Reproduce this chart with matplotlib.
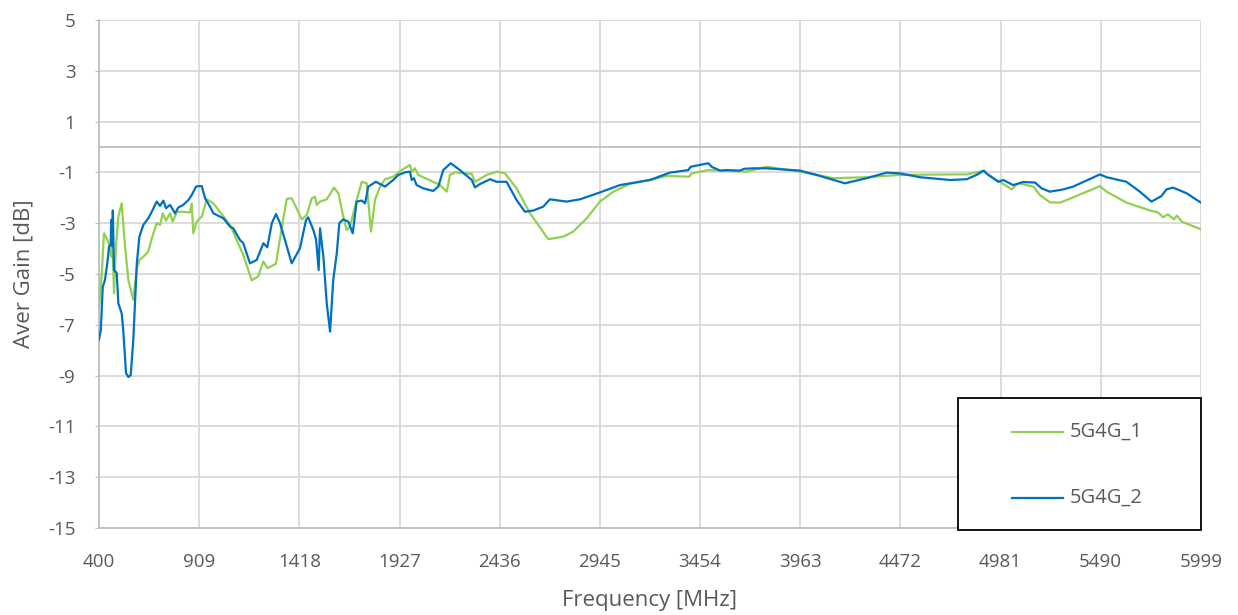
import numpy as np
import matplotlib.pyplot as plt
from matplotlib.lines import Line2D
from matplotlib.patches import Rectangle

# 5G4G_1 (green)
f1 = [400, 414, 425, 439, 452, 461, 469, 476, 486, 498, 515, 532, 549, 574, 592, 605, 625, 650,
      668, 693, 710, 724, 740, 761, 774, 795, 828, 862, 871, 879, 896, 922, 947, 981, 1066, 1133,
      1176, 1209, 1235, 1256, 1299, 1328, 1354, 1379, 1430, 1455, 1481, 1497, 1506, 1523, 1557,
      1594, 1616, 1641, 1658, 1675, 1709, 1735, 1760, 1782, 1802, 1828, 1853, 1895, 1929, 1980,
      1991, 2005, 2022, 2133, 2167, 2183, 2209, 2294, 2310, 2370, 2421, 2463, 2522, 2590, 2632,
      2683, 2759, 2810, 2878, 2945, 3013, 3098, 3199, 3284, 3399, 3411, 3496, 3556, 3691, 3792,
      3962, 4131, 4300, 4470, 4724, 4809, 4893, 4927, 4978, 5037, 5071, 5148, 5181, 5232, 5283,
      5317, 5486, 5520, 5621, 5740, 5782, 5807, 5831, 5862, 5877, 5902, 5999]
g1 = [-6.29, -4.97, -3.4, -3.6, -3.86, -4.32, -3.9, -5.76, -3.92, -2.74, -2.22, -3.92, -5.24,
      -6.02, -4.78, -4.45, -4.32, -4.12, -3.6, -3.0, -3.07, -2.61, -2.9, -2.61, -2.94, -2.55,
      -2.55, -2.58, -2.22, -3.4, -2.94, -2.74, -2.06, -2.22, -3.07, -4.25, -5.25, -5.09, -4.51,
      -4.77, -4.6, -3.2, -2.04, -2.02, -2.85, -2.68, -2.02, -1.96, -2.28, -2.15, -2.06, -1.6,
      -1.82, -2.74, -3.27, -3.14, -2.09, -1.37, -1.43, -3.33, -2.09, -1.56, -1.27, -1.17, -0.95,
      -0.71, -0.97, -0.84, -1.1, -1.5, -1.76, -1.1, -1.0, -1.06, -1.37, -1.1, -0.97, -1.04,
      -1.63, -2.61, -3.07, -3.63, -3.53, -3.33, -2.81, -2.15, -1.76, -1.45, -1.3, -1.14, -1.17,
      -1.04, -0.91, -0.93, -0.97, -0.78, -0.97, -1.23, -1.19, -1.1, -1.08, -1.08, -0.94, -1.15,
      -1.37, -1.67, -1.43, -1.56, -1.89, -2.18, -2.19, -2.09, -1.54, -1.76, -2.19, -2.5, -2.58,
      -2.77, -2.65, -2.85, -2.7, -2.94, -3.24]

# 5G4G_2 (blue)
f2 = [400, 409, 419, 430, 442, 451, 459, 462, 466, 470, 476, 490, 498, 515, 523, 537, 549, 561,
      574, 592, 605, 625, 650, 668, 693, 710, 727, 740, 761, 786, 803, 828, 854, 871, 893, 905,
      922, 939, 964, 981, 1032, 1066, 1082, 1116, 1133, 1167, 1201, 1235, 1255, 1278, 1299, 1320,
      1379, 1421, 1452, 1463, 1489, 1503, 1516, 1523, 1540, 1557, 1574, 1590, 1608, 1621, 1641,
      1667, 1689, 1709, 1735, 1752, 1768, 1807, 1853, 1895, 1921, 1955, 1980, 1989, 2000, 2014,
      2048, 2098, 2124, 2149, 2187, 2234, 2294, 2310, 2336, 2387, 2421, 2471, 2522, 2564, 2607,
      2657, 2691, 2776, 2844, 2945, 3047, 3199, 3301, 3394, 3406, 3496, 3513, 3556, 3589, 3657,
      3677, 3724, 3792, 3962, 4046, 4190, 4300, 4402, 4470, 4571, 4724, 4809, 4859, 4896, 4913,
      4969, 4995, 5045, 5096, 5156, 5190, 5232, 5300, 5350, 5486, 5520, 5621, 5689, 5748, 5799,
      5824, 5858, 5926, 5999]
g2 = [-7.57, -7.2, -5.5, -5.24, -4.58, -3.92, -3.86, -2.87, -3.9, -2.5, -4.84, -4.97, -6.15,
      -6.55, -7.2, -8.9, -9.06, -8.98, -7.6, -4.58, -3.53, -3.07, -2.81, -2.55, -2.15, -2.32,
      -2.11, -2.41, -2.28, -2.61, -2.38, -2.28, -2.09, -1.89, -1.56, -1.54, -1.54, -2.02, -2.35,
      -2.61, -2.81, -3.14, -3.2, -3.66, -3.79, -4.58, -4.45, -3.79, -3.95, -3.0, -2.64, -3.0,
      -4.58, -3.99, -2.87, -2.77, -3.27, -3.66, -4.84, -3.2, -4.32, -6.15, -7.27, -5.24, -4.19,
      -3.0, -2.85, -2.94, -3.4, -2.15, -2.11, -2.22, -1.56, -1.37, -1.56, -1.3, -1.1, -1.0,
      -0.97, -1.3, -1.23, -1.5, -1.63, -1.73, -1.56, -0.91, -0.64, -0.91, -1.3, -1.59, -1.46,
      -1.27, -1.37, -1.37, -2.09, -2.55, -2.5, -2.35, -2.06, -2.15, -2.06, -1.79, -1.5, -1.3,
      -1.01, -0.91, -0.78, -0.64, -0.78, -0.93, -0.91, -0.93, -0.86, -0.84, -0.84, -0.93, -1.1,
      -1.43, -1.23, -1.01, -1.04, -1.19, -1.3, -1.27, -1.1, -0.93, -1.06, -1.37, -1.3, -1.5,
      -1.38, -1.4, -1.63, -1.76, -1.67, -1.56, -1.08, -1.19, -1.37, -1.76, -2.15, -1.93, -1.67,
      -1.6, -1.82, -2.19]

labels = ['5G4G_1', '5G4G_2']
xticks = [400, 909, 1418, 1927, 2436, 2945, 3454, 3963, 4472, 4981, 5490, 5999]
yticks = [5, 3, 1, -1, -3, -5, -7, -9, -11, -13, -15]

green = '#92d050'
blue = '#0070c0'
txt = '#595959'
grid = '#d9d9d9'

plt.rcParams['font.family'] = ['Open Sans', 'DejaVu Sans']

fig = plt.figure(figsize=(12.38, 6.15), dpi=100)
ax = fig.add_axes([0.080, 0.1415, 0.890, 0.826])

ax.plot(f1, g1, color=green, lw=1.6, zorder=3)
ax.plot(f2, g2, color=blue, lw=1.6, zorder=4)

ax.set_xlim(400, 5999)
ax.set_ylim(-15, 5)
ax.set_xticks(xticks)
ax.set_yticks(yticks)
ax.set_xticklabels([str(x) for x in xticks])
ax.set_yticklabels([str(y) for y in yticks])
ax.grid(True, color=grid, lw=1.3)
ax.axhline(0, color='#bfbfbf', lw=1.3, zorder=2)
ax.set_axisbelow(True)

for s in ['top', 'right']:
    ax.spines[s].set_visible(False)
for s in ['left', 'bottom']:
    ax.spines[s].set_color('#bfbfbf')
    ax.spines[s].set_linewidth(1.3)

ax.tick_params(axis='x', length=0, pad=18, labelsize=13.5, labelcolor=txt)
ax.tick_params(axis='y', length=3, color='#bfbfbf', pad=14, labelsize=13.5, labelcolor=txt)

ax.set_xlabel('Frequency [MHz]', fontsize=16, color=txt, labelpad=14)
ax.set_ylabel('Aver Gain [dB]', fontsize=16, color=txt, labelpad=10)

# legend box drawn by hand so the padding matches the original
ax.add_patch(Rectangle((0.7795, -0.004), 0.221, 0.260, transform=ax.transAxes,
                       facecolor='white', edgecolor='black', lw=1.3, zorder=6, clip_on=False))
for yy, col, lab in zip([0.189, 0.059], [green, blue], labels):
    ax.add_line(Line2D([0.8285, 0.8748], [yy, yy], transform=ax.transAxes, color=col,
                       lw=1.6, zorder=7, clip_on=False))
    ax.text(0.8811, yy, lab, transform=ax.transAxes, va='center', ha='left',
            fontsize=14.5, color=txt, zorder=7)

fig.savefig('out.png', dpi=100)
